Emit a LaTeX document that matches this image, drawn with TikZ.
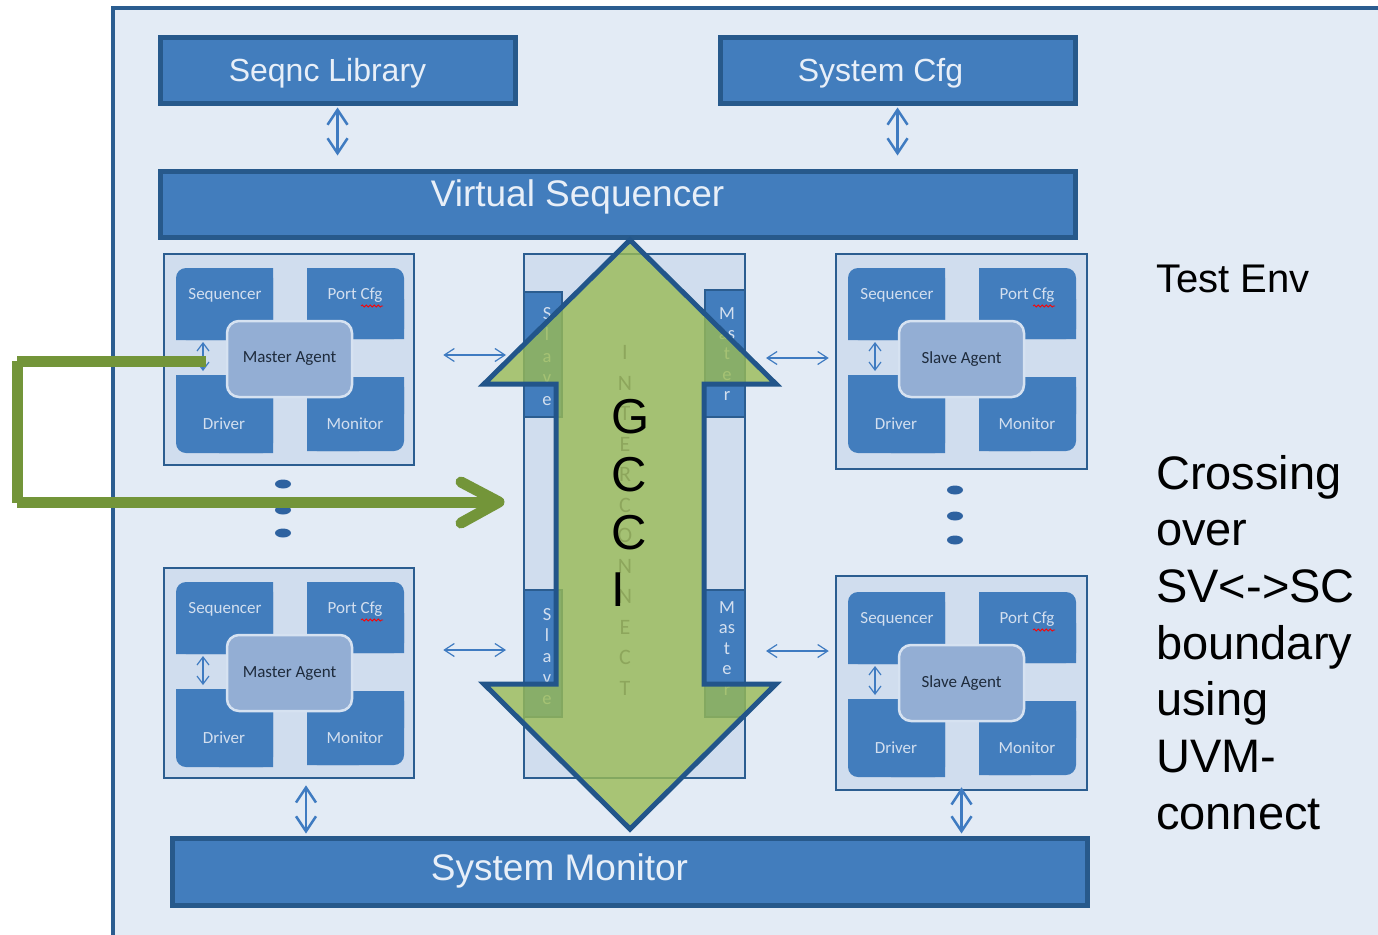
\documentclass[tikz,border=0pt]{standalone}
\usepackage{fontspec}
\setmainfont{Liberation Sans}
\newfontfamily\calf{Carlito}
\usetikzlibrary{arrows.meta,calc,decorations.pathmorphing}

\definecolor{pagebg}{HTML}{E3EBF5}
\definecolor{framec}{HTML}{2B5D90}
\definecolor{blueb}{HTML}{427DBD}
\definecolor{bluedk}{HTML}{27598B}
\definecolor{agentbg}{HTML}{D0DDEE}
\definecolor{agentcf}{HTML}{93AED4}
\definecolor{agentedge}{HTML}{D6E2F1}
\definecolor{arrowc}{HTML}{3F7BC1}
\definecolor{gfill}{RGB}{154,187,85}
\definecolor{gedge}{HTML}{22558A}
\definecolor{glinec}{HTML}{739539}
\definecolor{lighttxt}{HTML}{E8EFF8}
\definecolor{subtxt}{HTML}{D3DFEF}
\definecolor{agtxt}{HTML}{1E2B3C}
\definecolor{icolive}{HTML}{8DA65C}
\definecolor{dotc}{HTML}{2E62A0}

% one agent: four sub-blocks around a rounded agent core
\newcommand\agentunit[4]{%
\begin{scope}[shift={(#2,#3)}]
 \fill[blueb,rounded corners=10pt] (12,14) rectangle (109,86);
 \fill[blueb] (12,45) rectangle (109,86) (55,14) rectangle (109,86);
 \fill[blueb,rounded corners=10pt] (143,14) rectangle (240,85);
 \fill[blueb] (143,14) rectangle (195,85) (143,45) rectangle (240,85);
 \fill[blueb,rounded corners=10pt] (12,121) rectangle (109,199);
 \fill[blueb] (12,121) rectangle (109,160) (55,121) rectangle (109,199);
 \fill[blueb,rounded corners=10pt] (143,123) rectangle (240,197);
 \fill[blueb] (143,123) rectangle (240,160) (143,123) rectangle (195,197);
 \node[sub] (#1-seq) at (61,41) {Sequencer};
 \node[sub] (#1-port) at (191,41) {Port Cfg};
 \draw[red, line width=0.8pt, decorate, decoration={snake,amplitude=1.1pt,segment length=4pt}] (197,52) -- (219,52);
 \node[sub] (#1-drv) at (60,170) {Driver};
 \node[sub] (#1-mon) at (191,170) {Monitor};
 \node[agentc] (#1-ag) at (125.5,105) {#4};
 \coordinate (#1-a) at (39,88);
 \coordinate (#1-b) at (39,117);
 \draw[tinydbl] (#1-a) -- (#1-b);
\end{scope}}

\begin{document}
\begin{tikzpicture}[x=1pt,y=-1pt,
  bigbox/.style={draw=bluedk, fill=blueb, line width=5pt, inner sep=0pt},
  lbl/.style={text=lighttxt, inner sep=0pt, font=\fontsize{32}{38}\selectfont},
  lblbig/.style={text=lighttxt, inner sep=0pt, font=\fontsize{37}{44}\selectfont},
  agentbox/.style={draw=framec, fill=agentbg, line width=2.5pt, inner sep=0pt},
  icbox/.style={draw=framec, fill=blueb, line width=2pt, inner sep=0pt},
  agentc/.style={draw=agentedge, fill=agentcf, line width=2.5pt, rounded corners=12pt,
    minimum width=125pt, minimum height=76pt, inner sep=0pt, text=agtxt,
    font=\calf\fontsize{17}{20}\selectfont},
  sub/.style={text=subtxt, inner sep=0pt, font=\calf\fontsize{17}{20}\selectfont},
  icl/.style={text=subtxt, inner sep=0pt, font=\calf\fontsize{18.5}{22}\selectfont},
  icbig/.style={text=icolive, inner sep=0pt, font=\calf\fontsize{22}{26}\selectfont},
  bigdbl/.style={draw=arrowc, line width=2.5pt,
    arrows={Straight Barb[length=15pt,width=20pt]-Straight Barb[length=15pt,width=20pt]}},
  smalldbl/.style={draw=arrowc, line width=1.2pt,
    arrows={Straight Barb[length=10pt,width=13pt]-Straight Barb[length=10pt,width=13pt]}},
  tinydbl/.style={draw=arrowc, line width=1.2pt,
    arrows={Straight Barb[length=8pt,width=12pt]-Straight Barb[length=8pt,width=12pt]}},
  garrow/.style={draw=gedge, line width=5pt, fill=gfill, fill opacity=0.8, line join=miter},
  gline/.style={draw=glinec, line width=11pt},
  gcci/.style={text=black, inner sep=0pt, font=\fontsize{49}{58}\selectfont},
  rt40/.style={text=black, inner sep=0pt, font=\fontsize{40}{48}\selectfont},
  rt47/.style={text=black, inner sep=0pt, font=\fontsize{47}{56}\selectfont}]

\useasboundingbox (0,0) rectangle (1378,934);
\clip (0,0) rectangle (1378,934);
\fill[white] (0,0) rectangle (1378,934);

% test environment frame
\draw[framec, fill=pagebg, line width=4pt] (113,8) rectangle (1400,960);

% library, configuration, virtual sequencer, system monitor
\node[bigbox, minimum width=355pt, minimum height=65pt,
  label={[lbl, xshift=-10pt, yshift=-3pt]center:Seqnc Library}] (seqlib) at (337.5,70.5) {};
\node[bigbox, minimum width=355pt, minimum height=65pt,
  label={[lbl, xshift=-17pt, yshift=-3pt]center:System Cfg}] (syscfg) at (897.5,70.5) {};
\node[bigbox, minimum width=915pt, minimum height=66pt,
  label={[lblbig, xshift=-40pt, yshift=7pt]center:Virtual Sequencer}] (vseq) at (617.5,204) {};
\node[bigbox, minimum width=915pt, minimum height=67pt,
  label={[lblbig, xshift=-70pt, yshift=1pt]center:System Monitor}] (sysmon) at (629.5,871.5) {};

\draw[bigdbl, shorten <=2pt, shorten >=13pt] (seqlib.south) -- (seqlib.south |- vseq.north);
\draw[bigdbl, shorten <=2pt, shorten >=13pt] (syscfg.south) -- (syscfg.south |- vseq.north);

% agent containers
\node[agentbox, minimum width=250pt, minimum height=211pt] (mt) at (289,359.5) {};
\node[agentbox, minimum width=250pt, minimum height=210pt] (mb) at (289,673) {};
\node[agentbox, minimum width=251pt, minimum height=215pt] (st) at (961.5,361.5) {};
\node[agentbox, minimum width=251pt, minimum height=214pt] (sb) at (961.5,683) {};

\agentunit{mtu}{164}{254}{Master Agent}
\agentunit{mbu}{164}{568}{Master Agent}
\agentunit{stu}{836}{254}{Slave Agent}
\agentunit{sbu}{836}{578}{Slave Agent}

% more agents
\foreach \yy in {484,510,533} \fill[dotc] (283,\yy) ellipse [x radius=8pt, y radius=4.5pt];
\foreach \yy in {490,516,540} \fill[dotc] (955,\yy) ellipse [x radius=8pt, y radius=4.5pt];

% interconnect
\node[agentbox, line width=2pt, minimum width=221pt, minimum height=524pt] (ic) at (634.5,516) {};
\node[icbox, minimum width=38pt, minimum height=125pt] (slt) at (543,354.5) {};
\node[icbox, minimum width=40pt, minimum height=127pt] (mat) at (725,353.5) {};
\node[icbox, minimum width=38pt, minimum height=127pt] (slb) at (543,653.5) {};
\node[icbox, minimum width=40pt, minimum height=127pt] (mab) at (725,653.5) {};
\foreach \c [count=\i from 0] in {S,l,a,v,e}
  \node[icl, anchor=base] (slt\i) at (547,319+21.6*\i) {\c};
\foreach \c [count=\i from 0] in {M,as,t,e,r}
  \node[icl, anchor=base] (mat\i) at (727,319+20.4*\i) {\c};
\foreach \c [count=\i from 0] in {S,l,a,v,e}
  \node[icl, anchor=base] (slb\i) at (547,620+21*\i) {\c};
\foreach \c [count=\i from 0] in {M,as,t,e,r}
  \node[icl, anchor=base] (mab\i) at (727,613+20.6*\i) {\c};

% agent <-> interconnect
\draw[smalldbl, shorten <=28pt, shorten >=17pt] (mt.east |- 0,355) -- (ic.west |- 0,355);
\draw[smalldbl, shorten <=28pt, shorten >=17pt] (mb.east |- 0,650) -- (ic.west |- 0,650);
\draw[smalldbl, shorten <=20pt, shorten >=6pt] (ic.east |- 0,358) -- (st.west |- 0,358);
\draw[smalldbl, shorten <=20pt, shorten >=6pt] (ic.east |- 0,651) -- (sb.west |- 0,651);

% agents <-> system monitor
\draw[bigdbl, shorten <=6pt, shorten >=2pt] (mb.south -| 306,0) -- (sysmon.north -| 306,0);
\draw[bigdbl, shorten <=-4pt, shorten >=2pt] (sb.south) -- (sb.south |- sysmon.north);

% GCCI double arrow through the interconnect
\draw[garrow] (630,240) -- (776,384) -- (704,384) -- (704,684) -- (776,684) -- (630,829)
  -- (484,684) -- (556,684) -- (556,384) -- (484,384) -- cycle;
\foreach \c [count=\i from 0] in {I,N,T,E,R,C,O,N,N,E,C,T}
  \node[icbig, anchor=base] (icn\i) at (625,359.5+30.5*\i) {\c};
\foreach \c/\yy [count=\i] in {G/433,C/491,C/549,I/606}
  \node[gcci, anchor=base west] (gc\i) at (611,\yy) {\c};

% loop-back path from the master agent into the interconnect
\coordinate (gs) at ($(mtu-ag.west)+(-20,2)$);
\coordinate (ge) at ($(ic.west |- 0,502)+(-24,0)$);
\draw[gline] (gs) -- (17,361) (17.5,361) -- (17.5,503) (17,502) -- (ge);
\draw[gline, line cap=round, line join=round] ($(ge)+(-38,-20)$) -- (ge) -- ($(ge)+(-38,21)$);

% side notes
\node[rt40, anchor=base west] (testenv) at (1156,292) {Test Env};
\foreach \t [count=\i from 0] in {Crossing,over,SV<->SC,boundary,using,UVM-,connect}
  \node[rt47, anchor=base west] (cr\i) at (1156,489+56.7*\i) {\t};
\end{tikzpicture}
\end{document}
